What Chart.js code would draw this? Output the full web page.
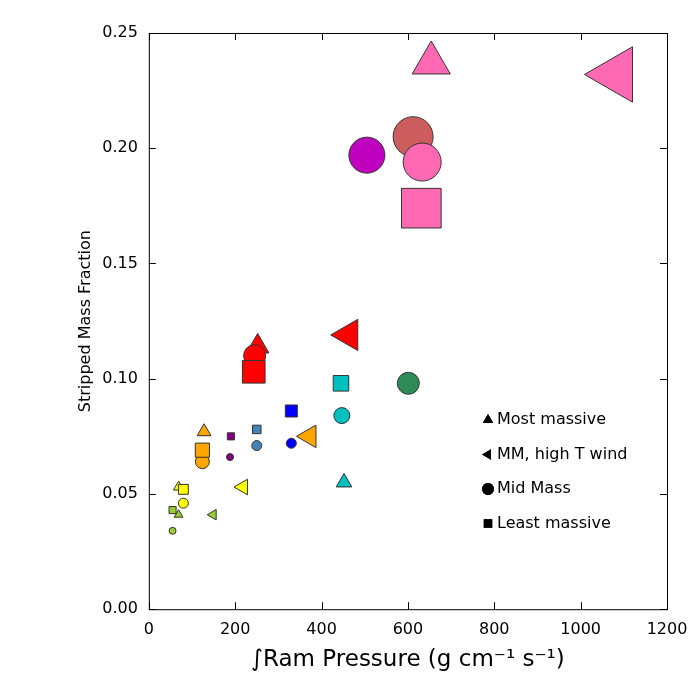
<!DOCTYPE html>
<html><head><meta charset="utf-8">
<script src="https://cdn.jsdelivr.net/npm/chart.js@4"></script>
<style>body{margin:0;background:#fff}#wrap{width:700px;height:700px}</style>
</head><body><div id="wrap"><canvas id="c"></canvas></div>
<script>
// Most massive (triangles up)
const mostX = [654, 252, 128, 69, 69, 452];
const mostY = [0.237, 0.114, 0.077, 0.053, 0.041, 0.055];
const mostC = ['#ff69b4', '#ff0000', '#ffa500', '#ffff00', '#9acd32', '#00bfbf'];
const mostR = [22, 13, 8, 6, 5, 9];
// MM, high T wind (triangles left)
const windX = [1083, 463, 372, 218, 149];
const windY = [0.232, 0.119, 0.075, 0.053, 0.041];
const windC = ['#ff69b4', '#ff0000', '#ffa500', '#ffff00', '#9acd32'];
const windR = [32, 18, 13, 9, 6];
// Mid mass (circles)
const midX = [505, 612, 633, 245, 124, 188, 250, 330, 447, 601, 80, 55];
const midY = [0.197, 0.205, 0.194, 0.110, 0.064, 0.066, 0.071, 0.072, 0.084, 0.098, 0.046, 0.034];
const midC = ['#bf00bf', '#cd5c5c', '#ff69b4', '#ff0000', '#ffa500', '#800080', '#4682b4', '#0000ff', '#00bfbf', '#2e8b57', '#ffff00', '#9acd32'];
const midR = [18, 20, 19, 11, 7, 3.5, 5, 5, 8, 11, 5, 3.5];
// Least massive (squares)
const leastX = [631, 243, 124, 190, 250, 330, 445, 80, 55];
const leastY = [0.174, 0.103, 0.069, 0.075, 0.078, 0.086, 0.098, 0.052, 0.043];
const leastC = ['#ff69b4', '#ff0000', '#ffa500', '#800080', '#4682b4', '#0000ff', '#00bfbf', '#ffff00', '#9acd32'];
const leastR = [28, 16, 10, 5, 6, 8.5, 11, 7, 5];

const legendItems = [
  ['Most massive', 'triangle', 0],
  ['MM, high T wind', 'triangle', -90],
  ['Mid Mass', 'circle', 0],
  ['Least massive', 'rect', 0]
];

function ds(xs, ys, cs, rs, style, rot) {
  return {
    data: xs.map((x, i) => ({x, y: ys[i]})),
    pointStyle: style,
    rotation: rot,
    backgroundColor: cs,
    borderColor: '#333',
    borderWidth: 1,
    pointRadius: rs,
    pointHoverRadius: rs
  };
}

// box frame, inward ticks and the text legend
const framePlugin = {
  id: 'frame',
  afterDraw(chart) {
    const ctx = chart.ctx, a = chart.chartArea;
    const sx = chart.scales.x, sy = chart.scales.y;
    ctx.save();
    ctx.strokeStyle = '#000';
    ctx.lineWidth = 1;
    ctx.strokeRect(a.left + 0.5, a.top + 0.5, a.right - a.left, a.bottom - a.top);
    ctx.beginPath();
    sx.ticks.forEach(t => {
      const p = Math.round(sx.getPixelForValue(t.value)) + 0.5;
      ctx.moveTo(p, a.bottom); ctx.lineTo(p, a.bottom - 7);
      ctx.moveTo(p, a.top); ctx.lineTo(p, a.top + 7);
    });
    sy.ticks.forEach(t => {
      const p = Math.round(sy.getPixelForValue(t.value)) + 0.5;
      ctx.moveTo(a.left, p); ctx.lineTo(a.left + 7, p);
      ctx.moveTo(a.right, p); ctx.lineTo(a.right - 7, p);
    });
    ctx.stroke();

    ctx.font = '16px "DejaVu Sans"';
    ctx.textBaseline = 'middle';
    ctx.fillStyle = '#000';
    legendItems.forEach((it, i) => {
      const y = 420 + i * 34.5, x = 488;
      Chart.helpers.drawPoint(ctx, {pointStyle: it[1], rotation: it[2], radius: 6, borderWidth: 0}, x, y);
      ctx.fill();
      ctx.fillText(it[0], x + 9, y);
    });
    ctx.restore();
  }
};

new Chart(document.getElementById('c'), {
  type: 'scatter',
  data: {
    datasets: [
      ds(leastX, leastY, leastC, leastR, 'rect', 0),
      ds(midX, midY, midC, midR, 'circle', 0),
      ds(windX, windY, windC, windR, 'triangle', -90),
      ds(mostX, mostY, mostC, mostR, 'triangle', 0)
    ]
  },
  plugins: [framePlugin],
  options: {
    responsive: true,
    maintainAspectRatio: false,
    animation: false,
    layout: { padding: { top: 27, right: 24, left: 72, bottom: 22 } },
    plugins: { legend: { display: false }, tooltip: { enabled: false } },
    scales: {
      x: {
        min: 0, max: 1200,
        border: { display: false },
        grid: { display: false },
        ticks: { stepSize: 200, color: '#000', font: { size: 16, family: 'DejaVu Sans' }, callback: v => String(v) },
        title: { display: true, text: '∫Ram Pressure (g cm⁻¹ s⁻¹)', color: '#000', font: { size: 23, family: 'DejaVu Sans' } }
      },
      y: {
        min: 0, max: 0.25,
        border: { display: false },
        grid: { display: false },
        ticks: { stepSize: 0.05, color: '#000', font: { size: 16, family: 'DejaVu Sans' }, callback: v => v.toFixed(2) },
        title: { display: true, text: 'Stripped Mass Fraction', color: '#000', font: { size: 16, family: 'DejaVu Sans' } }
      }
    }
  }
});
</script></body></html>
